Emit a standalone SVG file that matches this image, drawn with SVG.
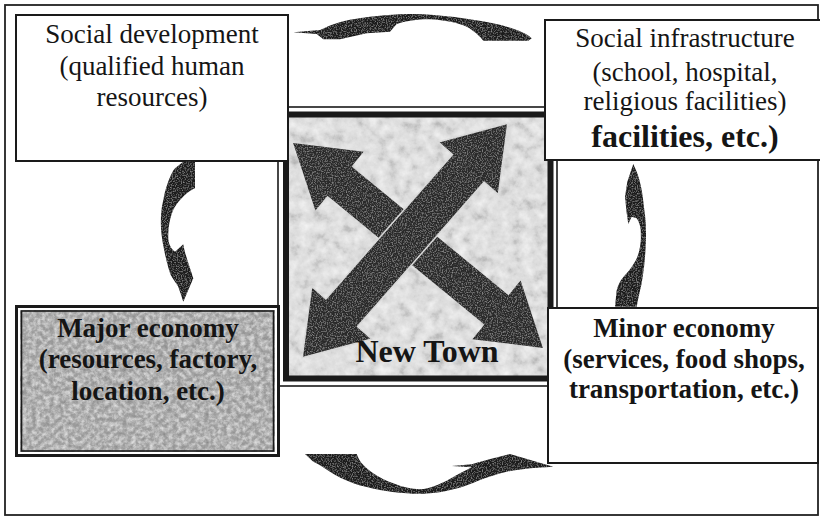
<svg xmlns="http://www.w3.org/2000/svg" width="820" height="517" viewBox="0 0 820 517">
  <defs>
    <style>
      .box { fill: #ffffff; stroke: #1a1a1a; stroke-width: 2; }
      .line { fill: none; stroke: #1a1a1a; }
      .t { font-family: "Liberation Serif", "Times New Roman", serif; font-size: 27px; fill: #151515; text-anchor: middle; }
      .b { font-weight: bold; }
      .big { font-size: 32px; }
      .dark { fill: #1e1e1e; }
      .arrow { fill: #2c2c2c; }
    </style>
    <!-- soft blotchy grain for the light centre panel -->
    <filter id="mottle" x="0" y="0" width="1" height="1">
      <feTurbulence type="fractalNoise" baseFrequency="0.09" numOctaves="4" seed="7" result="t"/>
      <feColorMatrix in="t" type="matrix" values="0 0 0 0 1  0 0 0 0 1  0 0 0 0 1  1.3 0 0 0 -0.55" result="light"/>
      <feColorMatrix in="t" type="matrix" values="0 0 0 0 0  0 0 0 0 0  0 0 0 0 0  -1.1 0 0 0 0.46" result="shade"/>
      <feMerge result="m"><feMergeNode in="light"/><feMergeNode in="shade"/></feMerge>
      <feComposite in="m" in2="SourceGraphic" operator="in" result="c"/>
      <feMerge><feMergeNode in="SourceGraphic"/><feMergeNode in="c"/></feMerge>
    </filter>
    <!-- finer grain for the grey economy panel -->
    <filter id="grain" x="0" y="0" width="1" height="1">
      <feTurbulence type="fractalNoise" baseFrequency="0.22" numOctaves="4" seed="11" result="t"/>
      <feColorMatrix in="t" type="matrix" values="0 0 0 0 1  0 0 0 0 1  0 0 0 0 1  1.2 0 0 0 -0.5" result="light"/>
      <feColorMatrix in="t" type="matrix" values="0 0 0 0 0  0 0 0 0 0  0 0 0 0 0  -1.0 0 0 0 0.42" result="shade"/>
      <feMerge result="m"><feMergeNode in="light"/><feMergeNode in="shade"/></feMerge>
      <feComposite in="m" in2="SourceGraphic" operator="in" result="c"/>
      <feMerge><feMergeNode in="SourceGraphic"/><feMergeNode in="c"/></feMerge>
    </filter>
    <!-- fine speckle for the dark arrows -->
    <filter id="speckle" x="0" y="0" width="1" height="1">
      <feTurbulence type="fractalNoise" baseFrequency="0.8" numOctaves="2" seed="3" result="t"/>
      <feColorMatrix in="t" type="matrix" values="0 0 0 0 1  0 0 0 0 1  0 0 0 0 1  0.6 0 0 0 -0.28" result="light"/>
      <feComposite in="light" in2="SourceGraphic" operator="in" result="c"/>
      <feMerge><feMergeNode in="SourceGraphic"/><feMergeNode in="c"/></feMerge>
    </filter>
  </defs>

  <!-- outer frame -->
  <rect x="5" y="5" width="813" height="510" fill="#ffffff" stroke="#222" stroke-width="1.8"/>

  <!-- central New Town panel -->
  <g id="new-town">
    <rect x="289" y="117" width="259" height="262" fill="#dadada" filter="url(#mottle)"/>
    <rect x="278" y="107" width="279" height="279" class="line" stroke-width="1.6"/>
    <rect x="286" y="114.5" width="264.5" height="264" class="line" stroke-width="6"/>
    <g filter="url(#speckle)">
      <polygon class="arrow" transform="translate(418 245.5) rotate(39.35)"
        points="-161.5,0 -101.5,-38 -101.5,-19 101.5,-19 101.5,-38 161.5,0 101.5,38 101.5,19 -101.5,19 -101.5,38"/>
      <polygon class="arrow" stroke="#d8d8d8" stroke-width="1.5" transform="translate(405 240.5) rotate(-48.76)"
        points="-156,0 -96,-40 -96,-21 96,-21 96,-40 156,0 96,40 96,21 -96,21 -96,40"/>
    </g>
    <text class="t b big" x="427" y="362">New Town</text>
  </g>

  <!-- social development -->
  <g id="social-development">
    <rect class="box" x="16" y="15" width="272" height="146"/>
    <text class="t" x="152" y="43">Social development</text>
    <text class="t" x="152" y="75">(qualified human</text>
    <text class="t" x="152" y="106">resources)</text>
  </g>

  <!-- social infrastructure -->
  <g id="social-infrastructure">
    <rect class="box" x="545" y="20" width="280" height="140"/>
    <text class="t" x="685" y="47">Social infrastructure</text>
    <text class="t" x="685" y="81">(school, hospital,</text>
    <text class="t" x="685" y="110">religious facilities)</text>
    <text class="t b big" x="685" y="147">facilities, etc.)</text>
  </g>

  <!-- major economy -->
  <g id="major-economy">
    <rect x="20" y="310" width="255" height="142" fill="#a6a6a6" filter="url(#grain)"/>
    <rect x="16.5" y="306.5" width="262" height="149" class="line" stroke-width="3"/>
    <rect x="21.5" y="311" width="252" height="140" class="line" stroke-width="1.6"/>
    <text class="t b" x="148" y="337">Major economy</text>
    <text class="t b" x="148" y="368">(resources, factory,</text>
    <text class="t b" x="148" y="400">location, etc.)</text>
  </g>

  <!-- minor economy -->
  <g id="minor-economy">
    <rect class="box" x="548" y="308" width="270" height="155"/>
    <text class="t b" x="684" y="337">Minor economy</text>
    <text class="t b" x="684" y="368">(services, food shops,</text>
    <text class="t b" x="684" y="398">transportation, etc.)</text>
  </g>

  <!-- curved cycle arrows -->
  <g id="connectors" filter="url(#speckle)">
    <!-- top: social infrastructure to social development -->
    <path class="dark" d="M293.3,32.3 L320,30 C330,25 345,20 355,19
      C375,15.5 395,14 413,14 C440,14.5 470,18.5 493,23.3 C510,27 525,32 531.7,38.3
      L528.3,40.7 L483.3,40.7 C480,36 473,30 466.7,26.7 C458,23 445,20 430,19.3
      C420,19 405,21 396.7,24 L390,31.7 L366.7,33.3 L340,39.3 L323.3,39.3 L316.7,34 Z"/>
    <!-- left: social development down to major economy -->
    <path class="dark" d="M183.3,161.7 L195,161.7 L195,188.3 C188,191 180,199 175,206.7
      C170,215 168,228 168.3,238.3 C168.5,244 171,249 175,251.7 L183.3,244.3
      C184,250 186,255 187.3,260 L193.3,278.3 L183.3,301.7 L178.3,286.7 L171.7,276.7
      C168,270 164,250 162.3,240 C160,226 160.5,210 163.3,200 C165,190 170,174 175,168.3 Z"/>
    <!-- bottom: major economy to minor economy -->
    <path class="dark" d="M305,454 L356.7,454 C358,458 360,461 361.7,463.3
      C366,468 370,471 373.3,473.3 C380,478 387,481 393.3,483.3 C402,487 411,489 420,489.3
      C430,488.5 440,484 446.7,480.7 C453,477 460,473 465,470.7 L471.7,467.3 L451.7,466
      L471.7,464.3 C480,462 487,460 493.3,458.3 L510,454 L553.3,466.7 L530,468.3
      C522,469.5 514,470 506.7,471.7 C497,474 488,477 480,480 C470,484 462,487.5 453.3,489.3
      C445,491.5 437,493 430,493.3 C422,494 414,494 406.7,493.3 C397,492.5 388,491.5 380,490
      C370,488 361,486 353.3,483.3 C344,479.5 336,476 330,471.7 C323,467 318,464 313.3,461.7 Z"/>
    <!-- right: minor economy up to social infrastructure -->
    <path class="dark" d="M633.3,164 L627.3,181.7 L625,196.7 L626.7,213.3 L628.3,224 L631.7,216.7
      L636.7,218.3 C639,222 640.5,226 640.7,230 C641,236 641,242 640,246.7 C639,252 638,256 636,260
      C633,265 630,270 626.7,273.3 C623,277 621,280 619.3,283.3 C617,288 616,292 616,296.7 L615,306.7
      L636.7,306.7 C638,299 640,291 641.7,283.3 C643,275 644.5,265 645,256.7 C645.8,248 646,240 646,233.3
      C646,225 645.5,217 644.3,210 C643.5,203 642.8,196 641.7,190 C640.5,184 639,178 637.3,173.3 Z"/>
  </g>
</svg>
